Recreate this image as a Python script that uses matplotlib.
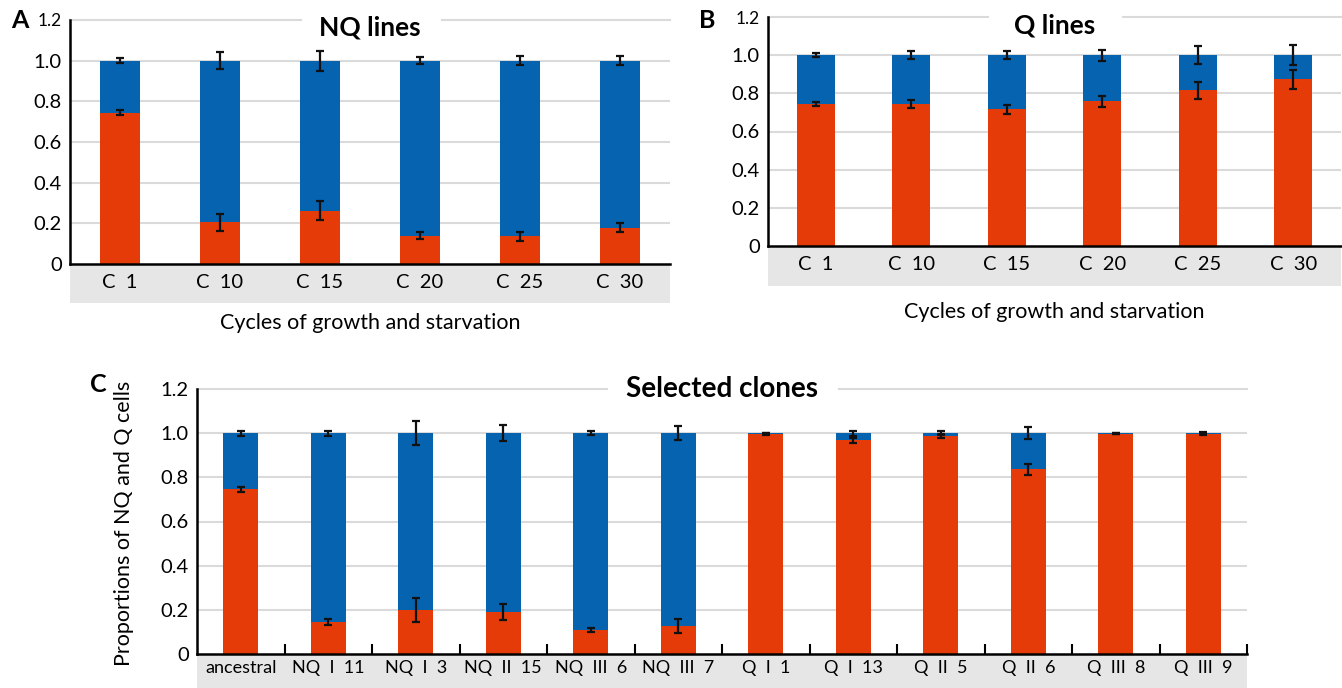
import matplotlib
matplotlib.use('Agg')
import matplotlib.pyplot as plt
from matplotlib.patches import Rectangle
import numpy as np

plt.rcParams['font.family'] = ['Lato', 'DejaVu Sans']

RED = '#e43b08'
BLUE = '#0563b0'
GRID = '#dadada'
BAND = '#e6e6e6'

# A: NQ lines (red = Q fraction, blue = rest up to 1.0)
cycles = ['C  1', 'C  10', 'C  15', 'C  20', 'C  25', 'C  30']
nq_lines_q = [0.745, 0.206, 0.263, 0.140, 0.136, 0.178]
nq_lines_q_err = [0.011, 0.042, 0.048, 0.016, 0.021, 0.022]
nq_lines_top_err = [0.011, 0.042, 0.049, 0.016, 0.021, 0.021]

# B: Q lines
q_lines_q = [0.745, 0.743, 0.716, 0.759, 0.815, 0.873]
q_lines_q_err = [0.011, 0.022, 0.023, 0.028, 0.046, 0.050]
q_lines_top_err = [0.010, 0.022, 0.022, 0.029, 0.046, 0.051]

# C: selected clones
clones = ['ancestral', 'NQ  I  11', 'NQ  I  3', 'NQ  II  15', 'NQ  III  6', 'NQ  III  7',
          'Q  I  1', 'Q  I  13', 'Q  II  5', 'Q  II  6', 'Q  III  8', 'Q  III  9']
clones_q = [0.745, 0.144, 0.200, 0.190, 0.109, 0.127, 0.997, 0.967, 0.988, 0.836, 0.998, 0.995]
clones_q_err = [0.011, 0.014, 0.055, 0.036, 0.011, 0.032, 0.004, 0.011, 0.008, 0.025, 0.003, 0.004]
clones_top_err = [0.012, 0.012, 0.055, 0.036, 0.010, 0.032, 0.003, 0.012, 0.008, 0.026, 0.003, 0.004]

yticks = [0, 0.2, 0.4, 0.6, 0.8, 1.0, 1.2]
ytick_labels = ['0', '0.2', '0.4', '0.6', '0.8', '1.0', '1.2']

W, H = 1342, 688
fig = plt.figure(figsize=(W / 100, H / 100), dpi=100)


def px_axes(left, right, top, bottom):
    return fig.add_axes([left / W, 1 - bottom / H, (right - left) / W, (bottom - top) / H])


def panel(ax, labels, q, q_err, top_err, title, title_y, title_fs, gap, band, xfs,
          small_top=True, boundary=False):
    n = len(labels)
    x = np.arange(n)
    q = np.array(q)
    ax.bar(x, q, width=0.4, color=RED, lw=0, zorder=3)
    ax.bar(x, 1 - q, bottom=q, width=0.4, color=BLUE, lw=0, zorder=3)
    ax.errorbar(x, q, yerr=q_err, fmt='none', ecolor='#111111', elinewidth=1.6,
                capsize=3, capthick=1.6, zorder=4)
    ax.errorbar(x, np.ones(n), yerr=top_err, fmt='none', ecolor='#111111', elinewidth=1.6,
                capsize=3, capthick=1.6, zorder=4)
    ax.set_xlim(-0.5, n - 0.5)
    ax.set_ylim(0, 1.2)
    for v in yticks[1:-1]:
        ax.axhline(v, color=GRID, lw=1.5, zorder=0)
    tr = ax.get_yaxis_transform()
    ax.plot([0, gap[0]], [1.2, 1.2], color=GRID, lw=1.5, transform=tr, clip_on=False, zorder=0)
    ax.plot([gap[1], 1], [1.2, 1.2], color=GRID, lw=1.5, transform=tr, clip_on=False, zorder=0)
    ax.set_yticks(yticks)
    ax.set_yticklabels(ytick_labels, fontsize=14.5)
    if small_top:
        ax.get_yticklabels()[-1].set_fontsize(12.5)
    ax.set_yticks([0, 1.2], minor=True)
    ax.tick_params(axis='y', which='major', length=0, pad=6)
    ax.tick_params(axis='y', which='minor', length=6, width=1.8)
    ax.set_xticks(x)
    ax.set_xticklabels(labels, fontsize=xfs)
    ax.tick_params(axis='x', which='major', length=0, pad=7)
    if boundary:
        ax.set_xticks(np.arange(0.5, n, 1), minor=True)
        ax.tick_params(axis='x', which='minor', direction='in', length=7, width=1.5)
    for s in ['top', 'right']:
        ax.spines[s].set_visible(False)
    for s in ['left', 'bottom']:
        ax.spines[s].set_linewidth(1.8)
        ax.spines[s].set_zorder(5)
    ax.add_patch(Rectangle((0, -band), 1, band, transform=ax.transAxes,
                           facecolor=BAND, edgecolor='none', clip_on=False, zorder=0))
    ax.text(0.5, title_y, title, transform=ax.transAxes, ha='center', va='center',
            fontsize=title_fs, fontweight='bold')


axA = px_axes(70, 670, 20, 264)
panel(axA, cycles, nq_lines_q, nq_lines_q_err, nq_lines_top_err, 'NQ lines', 0.971, 19,
      (0.385, 0.62), 0.16, 14.5)
axA.text(0.5, -0.242, 'Cycles of growth and starvation', transform=axA.transAxes,
         ha='center', va='center', fontsize=15.5)

axB = px_axes(768, 1341, 17, 246)
panel(axB, cycles, q_lines_q, q_lines_q_err, q_lines_top_err, 'Q lines', 0.965, 19,
      (0.384, 0.62), 0.175, 14.5)
axB.text(0.5, -0.288, 'Cycles of growth and starvation', transform=axB.transAxes,
         ha='center', va='center', fontsize=15.5)

axC = px_axes(197, 1247, 389, 654)
panel(axC, clones, clones_q, clones_q_err, clones_top_err, 'Selected clones', 1.0, 20,
      (0.39, 0.611), 0.14, 13, small_top=False, boundary=True)
axC.tick_params(axis='x', which='major', pad=4)
axC.text(-0.0695, 0.494, 'Proportions of NQ and Q cells', transform=axC.transAxes,
         rotation=90, ha='center', va='center', fontsize=15.5)

fig.text(20 / W, 1 - 21 / H, 'A', fontsize=18, fontweight='bold', ha='center', va='center')
fig.text(707 / W, 1 - 21 / H, 'B', fontsize=18, fontweight='bold', ha='center', va='center')
fig.text(98 / W, 1 - 385 / H, 'C', fontsize=18, fontweight='bold', ha='center', va='center')

fig.savefig('out.png', dpi=100)
